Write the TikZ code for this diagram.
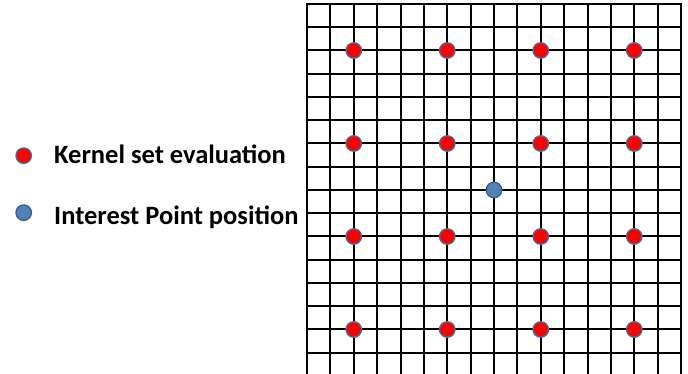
\documentclass[tikz,border=0pt]{standalone}
\usepackage{fontspec}
\setmainfont{Carlito}
\definecolor{dotrim}{HTML}{41719C}
\definecolor{ipfill}{HTML}{4F81BD}
\definecolor{iprim}{HTML}{385D8A}
\begin{document}
\begin{tikzpicture}[x=1pt,y=1pt,
  gridline/.style={line width=2pt, black},
  kdot/.style={circle, fill=red, draw=dotrim, line width=1.3pt, minimum size=15.5pt, inner sep=0pt},
  idot/.style={circle, fill=ipfill, draw=iprim, line width=1.3pt, minimum size=15.5pt, inner sep=0pt},
  legend/.style={anchor=base west, inner sep=0pt, font=\fontsize{26.5}{30}\selectfont\bfseries}]
\useasboundingbox (0,0) rectangle (688,374);
\begin{scope}
\clip (0,0) rectangle (688,374);
\foreach \i in {0,...,16}
  \draw[gridline] ({307+\i*23.375}, 370) -- ({307+\i*23.375}, -6);
\foreach \j in {0,...,16}
  \draw[gridline] (306, {370-\j*23.25}) -- (682, {370-\j*23.25});
\end{scope}
\foreach \c in {2,6,10,14}
  \foreach \r in {2,6,10,14}
    \node[kdot] (k\c-\r) at ({307+\c*23.375}, {370-\r*23.25}) {};
\node[idot] (ip) at ({307+8*23.375}, {370-8*23.25}) {};
\node[kdot] (lk) at (23.7, 218.3) {};
\node[idot] (li) at (23.7, 161.3) {};
\node[legend] (tk) at (54, 210) {Kernel set evaluation};
\node[legend] (ti) at (54, 149) {Interest Point position};
\end{tikzpicture}
\end{document}
